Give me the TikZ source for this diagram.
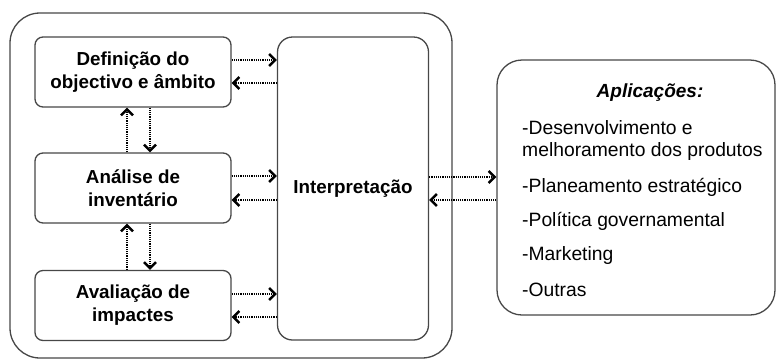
\documentclass[tikz,border=0pt]{standalone}
\usepackage{fontspec}
\setmainfont{Liberation Sans}
\usetikzlibrary{arrows.meta,calc}
\begin{document}
\begin{tikzpicture}[x=1pt,y=-1pt,
  box/.style={draw=black!72,line width=1.3pt,rounded corners=#1,inner sep=0pt,align=center},
  stage/.style={box=8pt,minimum width=196pt,minimum height=70pt,font=\fontsize{18.8}{23}\selectfont\bfseries},
  arr/.style={dash pattern=on 1.2pt off 1pt,line width=1.8pt,draw=black,-{Straight Barb[length=6pt,width=12pt,line width=2.4pt]}},
  item/.style={anchor=west,inner sep=0pt,align=left,font=\fontsize{19.3}{22}\selectfont}]
\useasboundingbox (0,0) rectangle (776,360);
\node[box=30pt,minimum width=442pt,minimum height=345pt] (outer) at (231,185.5) {};
\node[stage] (b1) at (133,72) {Definição do\\objectivo e âmbito};
\node[stage] (b2) at (133,188) {Análise de\\inventário};
\node[stage] (b3) at (133,305.5) {Avaliação de\\impactes};
\node[box=15pt,minimum width=151pt,minimum height=303pt,font=\fontsize{18.8}{23}\selectfont\bfseries] (interp) at (353,188.5) {Interpretação};
\node[box=25pt,minimum width=278pt,minimum height=255pt] (app) at (636,187.5) {};
\node[inner sep=0pt,font=\fontsize{19}{22}\selectfont\bfseries\itshape] (apt) at (650,93) {Aplicações:};
\node[item] (a1) at (522,141) {-Desenvolvimento e\\melhoramento dos produtos};
\node[item] (a2) at (522,187) {-Planeamento estratégico};
\node[item] (a3) at (522,221) {-Política governamental};
\node[item] (a4) at (522,256) {-Marketing};
\node[item] (a5) at (522,290) {-Outras};
% horizontal arrows
\foreach \b/\ya/\yb in {b1/60/83, b2/176/200, b3/294/317}{
  \draw[arr] (\b.east |- 0,\ya) -- (interp.west |- 0,\ya);
  \draw[arr] (interp.west |- 0,\yb) -- (\b.east |- 0,\yb);
}
\draw[arr] (interp.east |- 0,177) -- (app.west |- 0,177);
\draw[arr] (app.west |- 0,200) -- (interp.east |- 0,200);
% vertical arrows
\draw[arr] (b2.north -| 127,0) -- (b1.south -| 127,0);
\draw[arr] (b1.south -| 150,0) -- (b2.north -| 150,0);
\draw[arr] (b3.north -| 127,0) -- (b2.south -| 127,0);
\draw[arr] (b2.south -| 150,0) -- (b3.north -| 150,0);
\end{tikzpicture}
\end{document}
